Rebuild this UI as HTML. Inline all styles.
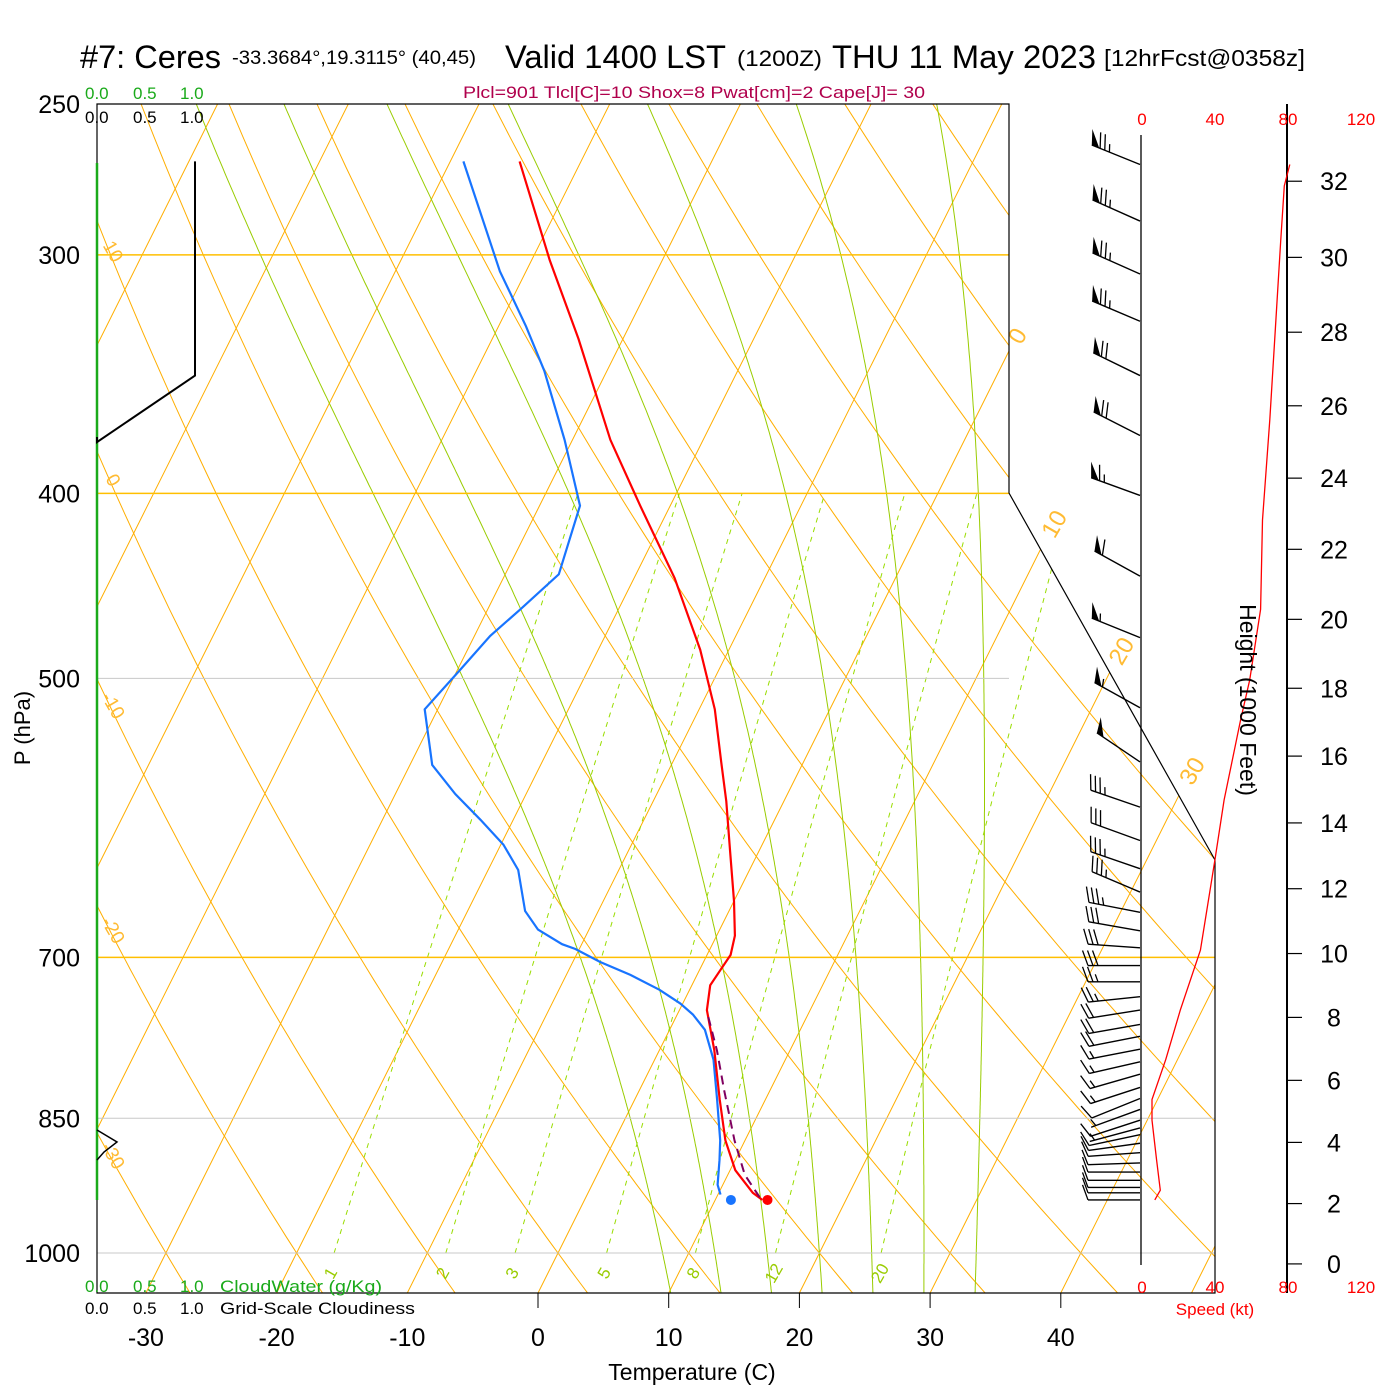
<!DOCTYPE html>
<html><head><meta charset="utf-8"><title>Skew-T Ceres</title>
<style>
html,body{margin:0;padding:0;background:#fff;}
svg{display:block;font-family:"Liberation Sans",sans-serif;}
</style></head>
<body>
<svg id="chart" width="1400" height="1400" viewBox="0 0 1400 1400" xmlns="http://www.w3.org/2000/svg">
<defs>
<clipPath id="plotclip"><polygon points="97,104 1009,104 1009,493 1215,860 1215,1293 97,1293"/></clipPath>
</defs>
<rect x="0" y="0" width="1400" height="1400" fill="#fff"/>
<g id="bg" clip-path="url(#plotclip)"></g>
<g id="grid"></g>
<g id="series"></g>
<g id="winds"></g>
<g id="right"></g>
<g id="labels">
<text x="80" y="68" font-size="32" textLength="141" lengthAdjust="spacingAndGlyphs">#7: Ceres</text>
<text x="232" y="64" font-size="19" textLength="244" lengthAdjust="spacingAndGlyphs">-33.3684°,19.3115° (40,45)</text>
<text x="505" y="68" font-size="32" textLength="221" lengthAdjust="spacingAndGlyphs">Valid 1400 LST</text>
<text x="737" y="66" font-size="22" textLength="85" lengthAdjust="spacingAndGlyphs">(1200Z)</text>
<text x="832" y="68" font-size="32" textLength="264" lengthAdjust="spacingAndGlyphs">THU 11 May 2023</text>
<text x="1104" y="66" font-size="23" textLength="201" lengthAdjust="spacingAndGlyphs">[12hrFcst@0358z]</text>
<text x="463" y="98" font-size="17" fill="#b0004c" textLength="462" lengthAdjust="spacingAndGlyphs">Plcl=901 Tlcl[C]=10 Shox=8 Pwat[cm]=2 Cape[J]= 30</text>
<g fill="#1aaa1a" font-size="17"><text x="85" y="99">0.0</text><text x="133" y="99">0.5</text><text x="180" y="99">1.0</text></g>
<g fill="#000" font-size="17"><text x="85" y="123">0.0</text><text x="133" y="123">0.5</text><text x="180" y="123">1.0</text></g>
<g fill="#1aaa1a" font-size="17"><text x="85" y="1292">0.0</text><text x="133" y="1292">0.5</text><text x="180" y="1292">1.0</text><text x="220" y="1292" textLength="162" lengthAdjust="spacingAndGlyphs">CloudWater (g/Kg)</text></g>
<g fill="#000" font-size="17"><text x="85" y="1314">0.0</text><text x="133" y="1314">0.5</text><text x="180" y="1314">1.0</text><text x="220" y="1314" textLength="195" lengthAdjust="spacingAndGlyphs">Grid-Scale Cloudiness</text></g>
<text font-size="22" transform="translate(30,728) rotate(-90)" text-anchor="middle">P (hPa)</text>
<text x="692" y="1380" font-size="23" text-anchor="middle">Temperature (C)</text>
<text font-size="23" transform="translate(1240,700) rotate(90)" text-anchor="middle">Height (1000 Feet)</text>
<text x="1215" y="1315" font-size="17" fill="#f00" text-anchor="middle">Speed (kt)</text>
</g>
</svg>
<script>
// ---- data ----
const pressureTicks = [250, 300, 400, 500, 700, 850, 1000];
const tempTicks = [-30, -20, -10, 0, 10, 20, 30, 40];
const tempP = [938, 930, 905, 873, 831, 783, 746, 724, 711, 698, 682, 654, 616, 580, 553, 519, 483, 443, 406, 375, 332, 302, 268];
const tempT = [13.6, 12.6, 10.4, 8.5, 6.5, 4.2, 2.1, 1.4, 1.6, 1.8, 1.4, 0.0, -2.2, -4.4, -6.3, -8.8, -12.2, -16.9, -22.3, -27.1, -33.4, -38.6, -44.7];
const dewP = [932, 921, 894, 873, 831, 792, 764, 750, 740, 728, 715, 704, 693, 689, 677, 662, 630, 611, 593, 575, 555, 519, 495, 475, 460, 441, 406, 375, 345, 327, 306, 268];
const dewT = [10.2, 9.6, 8.8, 8.1, 6.3, 4.5, 2.7, 1.2, -0.2, -2.3, -5.1, -7.9, -10.3, -11.5, -13.9, -15.6, -17.7, -19.8, -22.5, -25.4, -28.3, -31.0, -29.8, -28.8, -27.5, -25.9, -26.9, -30.6, -34.8, -37.9, -42.0, -49.0];
const parcelP = [935, 910, 873, 822, 783, 748];
const parcelT = [13.3, 11.3, 9.2, 6.5, 4.4, 2.2];
const sfcT = 14.0, sfcTd = 11.2, sfcP = 938;
const dryAdiabats = [-40,-30,-20,-10,0,10,20,30,40,50,60,70,80,90,100,110,120,130,140,150,160];
const isotherms = [-110,-100,-90,-80,-70,-60,-50,-40,-30,-20,-10,0,10,20,30,40,50];
const moistAdiabats = [8,12,16,20,24,28,32];
const mixRatios = [1, 2, 3, 5, 8, 12, 20];
const barbP = [269,288,307,325,347,373,401,442,476,518,553,584,608,629,647,663,678,692,707,721,734,746,759,770,782,794,806,819,830,841,852,860,867,876,886,897,907,916,924,930,938];
const barbDir = [292,294,294,293,296,297,290,299,292,299,304,289,290,289,293,281,280,274,270,270,264,261,260,259,259,257,254,252,248,250,252,255,258,262,266,268,270,270,270,270,270];
const barbSpd = [75,75,75,75,70,70,65,60,55,55,50,35,30,35,35,35,30,30,30,25,25,20,20,20,15,15,15,15,10,5,10,5,10,10,10,10,10,10,10,10,10];
const speedP = [269,276,295,329,366,413,460,501,526,579,622,694,746,792,831,852,894,927,938];
const speedKt = [81,78,76,73,70,66,65,59,54,45,40,32,21,13,5.5,5.5,8,10,7];
const heightTicks = [0,2,4,6,8,10,12,14,16,18,20,22,24,26,28,30,32];
const speedTicks = [0,40,80,120];
const cloudP = [268,325,347,376];
const cloudX = [0.0,0.0,0.0,1.0];

// ---- axes ----
const NS = "http://www.w3.org/2000/svg";
function yP(p){ return 1253 - 829*Math.log(1000/p); }
function xT(T, y){ return 538 + 13.07*T + 0.5*(1293 - y); }
function xSpd(s){ return 1142 + s*73/40; }
function cloudXpos(c){ return 195 - c*98; }
function mk(tag, attrs, parent){
  const e = document.createElementNS(NS, tag);
  for (const k in attrs) e.setAttribute(k, attrs[k]);
  parent.appendChild(e); return e;
}
const bg = document.getElementById('bg'), grid = document.getElementById('grid'),
      series = document.getElementById('series'), winds = document.getElementById('winds'),
      right = document.getElementById('right');
function pathFrom(pts){ return 'M' + pts.map(p=>p[0].toFixed(1)+','+p[1].toFixed(1)).join('L'); }
function esat(Tc){ return 6.112*Math.exp(17.67*Tc/(Tc+243.5)); }

// isotherms
isotherms.forEach(T=>{
  const el = mk('line', {x1:xT(T,1293), y1:1293, x2:xT(T,104), y2:104, stroke:'#ffae00', 'stroke-width':1}, bg);
  
  
});
// dry adiabats
dryAdiabats.forEach(th=>{
  const pts=[];
  for (let p=1060; p>=245; p-=10){ const T=(th+273.15)*Math.pow(p/1000,0.2857)-273.15; const y=yP(p); pts.push([xT(T,y),y]); }
  const el = mk('path', {d:pathFrom(pts), fill:'none', stroke:'#ffae00', 'stroke-width':1}, bg);
  
  
});
// moist adiabats
function moistRate(T, p){
  const Tc=T-273.15, es=esat(Tc), rs=0.622*es/(p-es), Lv=2.501e6, Rd=287.04, Cp=1005.7;
  return (Rd*T + Lv*rs)/(p*(Cp + Lv*Lv*rs*0.622/(Rd*T*T)));
}
moistAdiabats.forEach(tw=>{
  let T=tw+273.15; const up=[];
  for (let p=1000; p>=245; p-=2){ up.push([p,T]); const k1=moistRate(T,p); const k2=moistRate(T-2*k1,p-2); T-=2*(k1+k2)/2; }
  T=tw+273.15; const down=[];
  for (let p=1000; p<=1060; p+=2){ down.push([p,T]); const k1=moistRate(T,p); const k2=moistRate(T+2*k1,p+2); T+=2*(k1+k2)/2; }
  const all = down.reverse().concat(up).map(([p,T])=>{ const y=yP(p); return [xT(T-273.15,y), y]; });
  const el = mk('path', {d:pathFrom(all), fill:'none', stroke:'#99cc00', 'stroke-width':1}, bg);
  
  
});
// mixing ratio lines
mixRatios.forEach(w=>{
  const pts=[];
  for (let p=1000; p>=400; p-=10){ const e=w*p/(622+w); const l=Math.log(e/6.112); const Td=243.5*l/(17.67-l); const y=yP(p); pts.push([xT(Td,y),y]); }
  const el = mk('path', {d:pathFrom(pts), fill:'none', stroke:'#99dd00', 'stroke-width':1, 'stroke-dasharray':'5,5'}, bg);
  
  
  const e0=w*1040/(622+w), l0=Math.log(e0/6.112), Td0=243.5*l0/(17.67-l0), y0=1273;
  const t = mk('text', {x:xT(Td0,y0), y:y0+6, 'font-size':17, fill:'#99cc00', 'text-anchor':'middle', transform:`rotate(-60 ${xT(Td0,y0)} ${y0})`}, grid);
  t.textContent = w;
  
  
});
// isotherm labels (right)
[0,10,20,30].forEach((T,i)=>{
  const ys=[340,528,655,775][i]; const x=xT(T,ys)+10;
  const t = mk('text', {x:x, y:ys, 'font-size':24, fill:'#ffbb33', 'text-anchor':'middle', transform:`rotate(-60 ${x} ${ys})`}, grid);
  t.textContent = T;
  
  
});
// dry adiabat labels (left)
[10,0,-10,-20,-30].forEach(th=>{
  let best=null;
  for (let p=250;p<=1050;p+=1){ const T=(th+273.15)*Math.pow(p/1000,0.2857)-273.15; const y=yP(p); const x=xT(T,y); if (best===null || Math.abs(x-110)<Math.abs(best[0]-110)) best=[x,y]; }
  const t = mk('text', {x:112, y:best[1]+5, 'font-size':19, fill:'#ffbb33', 'text-anchor':'middle', transform:`rotate(60 112 ${best[1]})`}, grid);
  t.textContent = th;
  
  
});

// pressure grid lines + labels
pressureTicks.forEach(p=>{
  const y=yP(p);
  if (p!==250){
    const gold = (p===300||p===400||p===700);
    const xr = (p>=700)?1215:1009;
    const l = mk('line', {x1:97, y1:y, x2:xr, y2:y, stroke: gold?'#ffbf00':'#c8c8c8', 'stroke-width': gold?1.5:1}, grid);
    
    
  }
  const t = mk('text', {x:80, y:y+9, 'font-size':25, 'text-anchor':'end'}, grid);
  t.textContent = p;
  
  
});
// frame
{
  const f = mk('path', {d:'M97,104 L1009,104 L1009,493 L1215,860 L1215,1293 L97,1293 Z', fill:'none', stroke:'#000', 'stroke-width':1.2}, grid);
  
  
  const g = mk('line', {x1:97, y1:163, x2:97, y2:1200, stroke:'#1aaa1a', 'stroke-width':2.5}, grid);
  
  
}
// temperature ticks
tempTicks.forEach(T=>{
  const x = 538 + 13.07*T;
  if (T>=0){ const l = mk('line', {x1:x, y1:1293, x2:x, y2:1308, stroke:'#000'}, grid);
    
     }
  const t = mk('text', {x:x, y:1346, 'font-size':25, 'text-anchor':'middle'}, grid);
  t.textContent = T;
  
  
});

// cloudiness line
{
  const pts = cloudP.map((p,i)=>[cloudXpos(cloudX[i]), yP(p)]);
  pts.push([97,437]);
  const el = mk('path', {d:pathFrom(pts), fill:'none', stroke:'#000', 'stroke-width':2}, series);
  
  
  const el2 = mk('path', {d:'M97,1130 L117,1142 L104,1152 L97,1160', fill:'none', stroke:'#000', 'stroke-width':1.5}, series);
  
  
}
// series
function profile(P, T){ return P.map((p,i)=>{ const y=yP(p); return [xT(T[i],y), y]; }); }
{
  const d = mk('path', {d:pathFrom(profile(dewP,dewT)), fill:'none', stroke:'#1874ff', 'stroke-width':2.2}, series);
  
  
  const t = mk('path', {d:pathFrom(profile(tempP,tempT)), fill:'none', stroke:'#ff0000', 'stroke-width':2.2}, series);
  
  
  const pc = mk('path', {d:pathFrom(profile(parcelP,parcelT)), fill:'none', stroke:'#800060', 'stroke-width':2, 'stroke-dasharray':'9,6'}, series);
  
  
  const ys = yP(sfcP);
  const c1 = mk('circle', {cx:xT(sfcT,ys), cy:ys, r:5, fill:'#ff0000'}, series);
  
  
  const c2 = mk('circle', {cx:xT(sfcTd,ys), cy:ys, r:5, fill:'#1874ff'}, series);
  
  
}

// wind barbs
barbP.forEach((p,i)=>{
  const y=yP(p), bx=1140, d=barbDir[i]*Math.PI/180;
  const ux=Math.sin(d), uy=-Math.cos(d), L=52;
  const tx=bx+ux*L, ty=y+uy*L;
  const px=-uy, py=ux;
  const a=70*Math.PI/180, fx=Math.cos(a)*ux+Math.sin(a)*px, fy=Math.cos(a)*uy+Math.sin(a)*py;
  const g = mk('g', {}, winds);
  
  
  mk('line', {x1:bx, y1:y, x2:tx, y2:ty, stroke:'#000', 'stroke-width':1.4}, g);
  let s = Math.round(barbSpd[i]/5)*5, pos=0;
  const at = q=>[tx-ux*q, ty-uy*q];
  while (s>=50){ const a1=at(pos), a2=at(pos+8);
    mk('polygon', {points:`${a1[0]},${a1[1]} ${a2[0]},${a2[1]} ${a1[0]+fx*16},${a1[1]+fy*16}`, fill:'#000'}, g);
    pos+=9; s-=50; }
  while (s>=10){ const a1=at(pos);
    mk('line', {x1:a1[0], y1:a1[1], x2:a1[0]+fx*16, y2:a1[1]+fy*16, stroke:'#000', 'stroke-width':1.3}, g);
    pos+=5; s-=10; }
  if (s>=5){ if (pos===0) pos=5; const a1=at(pos);
    mk('line', {x1:a1[0], y1:a1[1], x2:a1[0]+fx*8, y2:a1[1]+fy*8, stroke:'#000', 'stroke-width':1.3}, g); }
});

// right panel
{
  const ax = mk('line', {x1:1141, y1:135, x2:1141, y2:1265, stroke:'#000', 'stroke-width':1.3}, right);
  
  
  const hx = mk('line', {x1:1287, y1:104, x2:1287, y2:1293, stroke:'#000', 'stroke-width':2}, right);
  
  
  speedTicks.forEach(s=>{
    [125,1293].forEach(yy=>{
      const t = mk('text', {x:xSpd(s), y:yy, 'font-size':17, fill:'#f00', 'text-anchor':'middle'}, right);
      t.textContent = s;
      
      
    });
  });
  heightTicks.forEach(h=>{
    const z=h*1000*0.3048; const p=1013.25*Math.pow(1-6.5e-3*z/288.15,5.2559); const y=yP(p);
    const l = mk('line', {x1:1287, y1:y, x2:1302, y2:y, stroke:'#000', 'stroke-width':1.2}, right);
    
    
    const t = mk('text', {x:1334, y:y+9, 'font-size':25, 'text-anchor':'middle'}, right);
    t.textContent = h;
    
    
  });
  const pts = speedP.map((p,i)=>[xSpd(speedKt[i]), yP(p)]);
  const sl = mk('path', {d:pathFrom(pts), fill:'none', stroke:'#ff0000', 'stroke-width':1.3}, right);
  
  
}
</script>
</body></html>
